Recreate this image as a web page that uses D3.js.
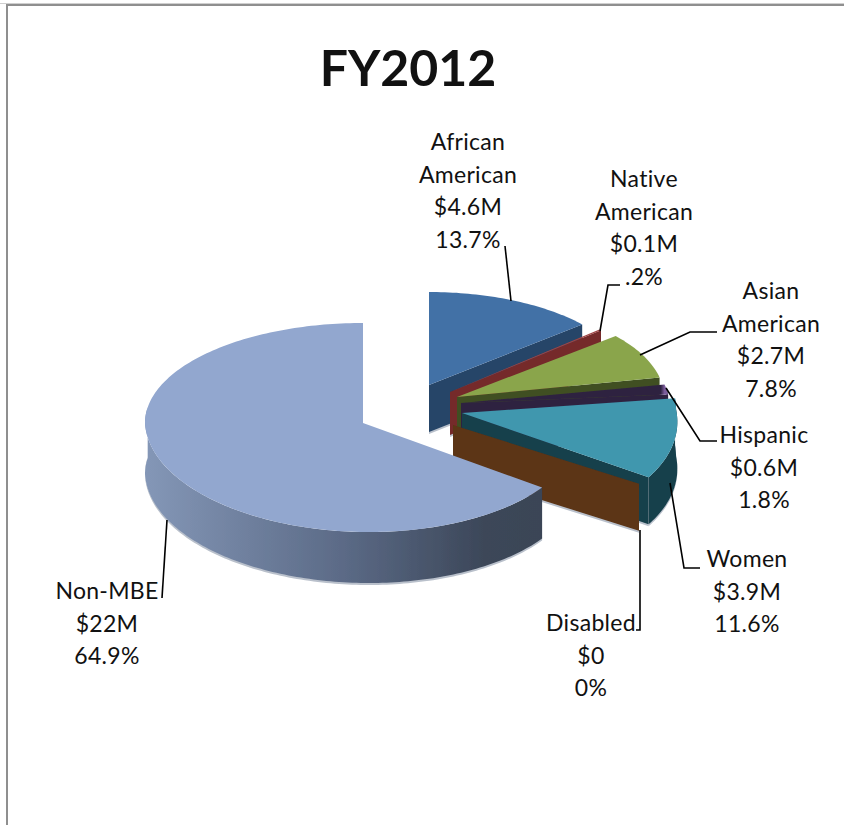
<!DOCTYPE html>
<html>
<head>
<meta charset="utf-8">
<script src="https://cdn.jsdelivr.net/npm/d3@7"></script>
<style>
html,body{margin:0;padding:0;background:#fff;}
svg{display:block;}
text{font-family:"Lato",sans-serif;fill:#111;}
</style>
</head>
<body>
<div id="chart"></div>
<script>
// ---- data ----
const title = "FY2012";
const categories = ["African American","Native American","Asian American","Hispanic","Women","Disabled","Non-MBE"];
const amounts = ["$4.6M","$0.1M","$2.7M","$0.6M","$3.9M","$0","$22M"];
const percents = [13.7,0.2,7.8,1.8,11.6,0,64.9];
const percentLabels = ["13.7%",".2%","7.8%","1.8%","11.6%","0%","64.9%"];

// ---- styling / layout ----
const topColors  = ["#4371a6","#a04545","#8aa54c","#2f2241","#3f97ae","#5b3415","#92a7cf"];
const sideColors = ["#254467","#752a2b","#3f5021","#2f2241","#173f4b","#5b3415","url(#sideGrad)"];
// exploded-slice geometry: apex, radii, shears
const geom = [
  {ax:429,ay:385,rx:202,rb:93,rf:100,sx:0,sy:0},
  {ax:450,ay:392,rx:197,rb:96,rf:100,sx:0,sy:0},
  {ax:457,ay:397,rx:207,rb:95,rf:100,sx:0,sy:0},
  {ax:461,ay:403,rx:208,rb:90,rf:100,sx:0,sy:0},
  {ax:462,ay:413,rx:214,rb:114,rf:114,sx:24,sy:-4},
  {ax:453,ay:425,rx:231,rb:99,rf:99,sx:0,sy:0},
  {ax:363,ay:423,rx:218,rb:100,rf:109,sx:6,sy:0}
];
const depths = [47,43,47,47,47,47,51];
const labelPos = [
  {x:468,y:150},{x:644,y:187},{x:771,y:299},{x:764,y:443},
  {x:747,y:567},{x:591,y:631},{x:107,y:599}
];
const leaders = [
  [[505,246],[511,301]],
  [[620,285],[608,285],[600,331]],
  [[640,355],[690,332],[717,332]],
  [[666,388],[700,441],[717,441]],
  [[670,483],[684,568],[700,568]],
  [[640,530],[640,630],[636,630]],
  [[167,520],[162,598]]
];

const W = 844, H = 825;
const svg = d3.select("#chart").append("svg").attr("width",W).attr("height",H);
const defs = svg.append("defs");
defs.append("filter").attr("id","soft").attr("x","-5%").attr("y","-5%").attr("width","110%").attr("height","110%")
  .append("feGaussianBlur").attr("stdDeviation",0.55);
const grad = defs.append("linearGradient").attr("id","sideGrad")
  .attr("gradientUnits","userSpaceOnUse").attr("x1",145).attr("x2",543).attr("y1",0).attr("y2",0);
[["0%","#8497b7"],["50%","#5b6a86"],["85%","#3c4759"],["100%","#3a4556"]].forEach(s=>
  grad.append("stop").attr("offset",s[0]).attr("stop-color",s[1]));
// thin wedges only show their own colour at the very tip
const tipGrad = defs.append("linearGradient").attr("id","hispTop")
  .attr("gradientUnits","userSpaceOnUse").attr("x1",650).attr("x2",668).attr("y1",0).attr("y2",0);
tipGrad.append("stop").attr("offset","0%").attr("stop-color","#2f2241");
tipGrad.append("stop").attr("offset","60%").attr("stop-color","#2f2241");
tipGrad.append("stop").attr("offset","80%").attr("stop-color","#7a5c9a");
topColors[3] = "url(#hispTop)";

// frame
svg.append("rect").attr("x",0).attr("y",3).attr("width",W).attr("height",1).attr("fill","#cfcfcf");
svg.append("rect").attr("x",6).attr("y",4).attr("width",W).attr("height",2).attr("fill","#8f8f8f");
svg.append("rect").attr("x",6).attr("y",4).attr("width",2).attr("height",H).attr("fill","#8f8f8f");

// title
svg.append("text").attr("x",408).attr("y",86).attr("text-anchor","middle")
  .attr("font-size",50).attr("font-weight",700).text(title);

// pie
const pie = d3.pie().sort(null).value(d=>d)(percents);
const line = d3.line();
const point = (g,a) => {
  const s = Math.sin(a), c = Math.cos(a);
  return [g.ax + g.rx*s - g.sx*Math.min(c,0), g.ay - (c>0 ? g.rb : g.rf)*c + g.sy*s];
};
const arcPts = (g,a0,a1) => {
  const n = Math.max(2,Math.ceil(Math.abs(a1-a0)/0.02));
  return d3.range(n+1).map(i=>point(g,a0+(a1-a0)*i/n));
};
const down = (pts,d)=>pts.map(p=>[p[0],p[1]+d]);
const gPie = svg.append("g").attr("filter","url(#soft)");
const fringe = "#b9c0cb";

pie.forEach((p,i)=>{
  const g = geom[i], d = depths[i], apex=[g.ax,g.ay];
  const a0=p.startAngle, a1=p.endAngle;
  const lo = Math.max(a0,Math.PI*0.45), hi = Math.min(a1,Math.PI*1.55);
  const sg = gPie.append("g").attr("class","slice");
  // outer wall with a light fringe along its foot
  if (hi>lo){
    const wall = arcPts(g,lo,hi);
    sg.append("path").attr("fill",fringe)
      .attr("d",line(down(wall,d-1).concat(down(wall,d+2).reverse()))+"Z");
    sg.append("path").attr("fill",sideColors[i])
      .attr("d",line(wall.concat(down(wall,d).reverse()))+"Z");
  }
  // cut face at the end of the slice (only for slices that face the viewer)
  if (i<6){
    const e = point(g,a1);
    const foot = [[e[0],e[1]+d-1],[e[0],e[1]+d+2],[apex[0],apex[1]+d+2],[apex[0],apex[1]+d-1]];
    sg.append("path").attr("fill",fringe).attr("d",line(foot)+"Z");
    sg.append("path").attr("fill",sideColors[i])
      .attr("d",line([apex,e,[e[0],e[1]+d],[apex[0],apex[1]+d]])+"Z");
  }
  // top face
  if (a1>a0){
    sg.append("path").attr("fill",topColors[i])
      .attr("d",line([apex].concat(arcPts(g,a0,a1)))+"Z");
  }
});

// leader lines
svg.append("g").selectAll("path").data(leaders).join("path")
  .attr("d",d=>line(d)).attr("fill","none").attr("stroke","#000").attr("stroke-width",1.6);

// labels
const lineH = 32.6;
categories.forEach((c,i)=>{
  const lines = c.split(" ").concat([amounts[i],percentLabels[i]]);
  const t = svg.append("text").attr("text-anchor","middle").attr("font-size",23).attr("letter-spacing",0.3);
  lines.forEach((l,j)=>t.append("tspan").attr("x",labelPos[i].x)
    .attr("y",labelPos[i].y+j*lineH).text(l));
});
</script>
</body>
</html>
